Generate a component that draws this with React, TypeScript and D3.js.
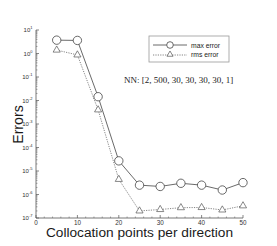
import React, { useEffect, useRef } from 'react'
import * as d3 from 'd3'

// collocation points per direction
const points = [5, 10, 15, 20, 25, 30, 35, 40, 45, 50]
const maxError = [3.7, 3.6, 0.0145, 2.7e-5, 2.5e-6, 2.2e-6, 3.0e-6, 2.5e-6, 1.55e-6, 3.2e-6]
const rmsError = [1.4, 0.87, 0.004, 4.4e-6, 2.0e-7, 2.3e-7, 2.75e-7, 2.8e-7, 2.2e-7, 3.3e-7]
const xTicks = [0, 10, 20, 30, 40, 50]
const yExponents = [1, 0, -1, -2, -3, -4, -5, -6, -7]
const legendLabels = ['max error', 'rms error']
const annotation = 'NN: [2, 500, 30, 30, 30, 30, 1]'

const W = 277
const H = 246
const SANS = 'Liberation Sans, Arial, sans-serif'

function App () {
  const ref = useRef<SVGSVGElement>(null)

  useEffect(() => {
    const svg = d3.select(ref.current)
    svg.selectAll('*').remove()

    const x = d3.scaleLinear().domain([0, 50]).range([36, 243])
    const y = d3.scaleLog().domain([1e-7, 10]).range([218, 30])
    const g = svg.append('g')
    const ink = '#555'

    // axes lines (left + bottom only)
    g.append('line').attr('x1', x(0)).attr('x2', x(0)).attr('y1', y(10)).attr('y2', y(1e-7))
      .attr('stroke', ink).attr('stroke-width', 0.8)
    g.append('line').attr('x1', x(0)).attr('x2', x(50)).attr('y1', y(1e-7)).attr('y2', y(1e-7))
      .attr('stroke', ink).attr('stroke-width', 0.8)

    // y ticks, major + minor, pointing inward
    yExponents.forEach((e) => {
      const v = Math.pow(10, e)
      g.append('line').attr('x1', x(0)).attr('x2', x(0) + 3).attr('y1', y(v)).attr('y2', y(v))
        .attr('stroke', ink).attr('stroke-width', 0.7)
      if (e < 1) {
        for (let k = 2; k < 10; k++) {
          const m = v * k
          g.append('line').attr('x1', x(0)).attr('x2', x(0) + 1.5).attr('y1', y(m)).attr('y2', y(m))
            .attr('stroke', ink).attr('stroke-width', 0.5)
        }
      }
      const t = g.append('text').attr('x', x(0) - 3.5).attr('y', y(v) + 2.3)
        .attr('text-anchor', 'end').attr('font-family', SANS)
        .attr('font-size', 6).attr('fill', '#333')
      t.append('tspan').text('10')
      t.append('tspan').attr('dy', -3).attr('font-size', 4).text(String(e))
    })

    // x ticks
    d3.range(0, 51, 2).forEach((v) => {
      const major = v % 10 === 0
      g.append('line').attr('x1', x(v)).attr('x2', x(v)).attr('y1', y(1e-7)).attr('y2', y(1e-7) - (major ? 3 : 1.5))
        .attr('stroke', ink).attr('stroke-width', major ? 0.7 : 0.5)
    })
    xTicks.forEach((v) => {
      g.append('text').attr('x', x(v)).attr('y', y(1e-7) + 6.8).attr('text-anchor', 'middle')
        .attr('font-family', SANS).attr('font-size', 6.3).attr('fill', '#333')
        .text(v)
    })

    // axis titles
    g.append('text').attr('x', 139.5).attr('y', 237).attr('text-anchor', 'middle')
      .attr('font-family', SANS).attr('font-size', 13.7).attr('fill', '#1a1a1a')
      .text('Collocation points per direction')
    g.append('text').attr('transform', 'translate(23,124.5) rotate(-90)').attr('text-anchor', 'middle')
      .attr('font-family', SANS).attr('font-size', 14.2).attr('fill', '#1a1a1a')
      .text('Errors')

    const line = d3.line<[number, number]>().x(d => x(d[0])).y(d => y(d[1]))
    const maxData = points.map((p, i) => [p, maxError[i]] as [number, number])
    const rmsData = points.map((p, i) => [p, rmsError[i]] as [number, number])

    g.append('path').attr('d', line(maxData)).attr('fill', 'none').attr('stroke', '#444').attr('stroke-width', 0.8)
    g.append('path').attr('d', line(rmsData)).attr('fill', 'none').attr('stroke', '#666')
      .attr('stroke-width', 0.8).attr('stroke-dasharray', '1.2,1.2')

    const tri = d3.symbol().type(d3.symbolTriangle).size(22)

    g.selectAll('.mx').data(maxData).enter().append('circle')
      .attr('cx', d => x(d[0])).attr('cy', d => y(d[1])).attr('r', 4.2)
      .attr('fill', 'white').attr('stroke', '#444').attr('stroke-width', 0.8)
    g.selectAll('.rm').data(rmsData).enter().append('path')
      .attr('d', tri).attr('transform', d => `translate(${x(d[0])},${y(d[1])})`)
      .attr('fill', 'white').attr('stroke', '#555').attr('stroke-width', 0.7)

    // legend
    const lg = g.append('g')
    lg.append('rect').attr('x', 149).attr('y', 36).attr('width', 80).attr('height', 26)
      .attr('fill', 'white').attr('stroke', '#999').attr('stroke-width', 0.8)
    lg.append('line').attr('x1', 153).attr('x2', 187).attr('y1', 45).attr('y2', 45).attr('stroke', '#444').attr('stroke-width', 0.8)
    lg.append('circle').attr('cx', 170).attr('cy', 45).attr('r', 3.3).attr('fill', 'white').attr('stroke', '#444').attr('stroke-width', 0.8)
    lg.append('line').attr('x1', 153).attr('x2', 187).attr('y1', 55).attr('y2', 55).attr('stroke', '#666')
      .attr('stroke-width', 0.8).attr('stroke-dasharray', '1.2,1.2')
    lg.append('path').attr('d', d3.symbol().type(d3.symbolTriangle).size(16)).attr('transform', 'translate(170,54.5)')
      .attr('fill', 'white').attr('stroke', '#555').attr('stroke-width', 0.7)
    legendLabels.forEach((l, i) => {
      lg.append('text').attr('x', 191).attr('y', 47.5 + i * 9.5).attr('font-family', SANS)
        .attr('font-size', 6.8).attr('fill', '#222').text(l)
    })

    g.append('text').attr('x', 124).attr('y', 83).attr('font-family', 'Liberation Serif, Times New Roman, serif')
      .attr('font-size', 9).attr('fill', '#222').text(annotation)
  }, [])

  return (
    <svg ref={ref} width={W} height={H} style={{ position: 'absolute', left: 0, top: 0, background: 'white' }} />
  )
}

export default App
